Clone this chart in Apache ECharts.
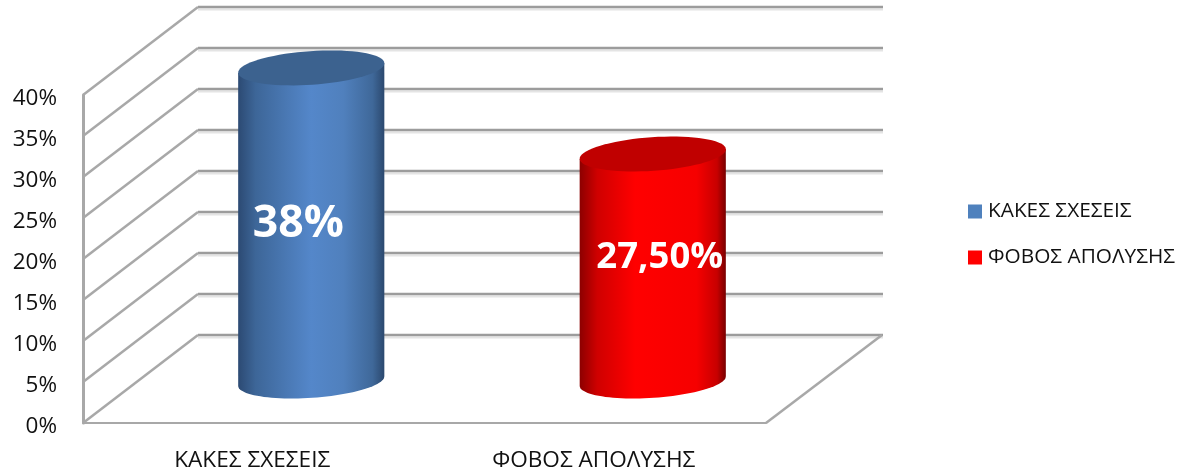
<!DOCTYPE html>
<html>
<head>
<meta charset="utf-8">
<style>html,body{margin:0;padding:0;background:#fff}#c{width:1181px;height:470px}</style>
<script src="https://cdn.jsdelivr.net/npm/echarts@6/dist/echarts.min.js"></script>
</head>
<body>
<div id="c"></div>
<script>
const categories = ['ΚΑΚΕΣ ΣΧΕΣΕΙΣ', 'ΦΟΒΟΣ ΑΠΟΛΥΣΗΣ'];
const seriesNames = ['ΚΑΚΕΣ ΣΧΕΣΕΙΣ', 'ΦΟΒΟΣ ΑΠΟΛΥΣΗΣ'];
const kakesValues = [38];
const fovosValues = [27.5];
const valueLabels = ['38%', '27,50%'];
const yTicks = [0, 5, 10, 15, 20, 25, 30, 35, 40];

const FONT = '"Open Sans", "Noto Sans", sans-serif';
const DX = 115, DY = -88;
const chart = echarts.init(document.getElementById('c'), null, { renderer: 'canvas' });

function wallRenderer(params, api) {
  const v = api.value(0);
  const p = api.coord([0, v]);
  const bandW = api.size([1, 0])[0];
  const left = p[0] - bandW / 2;
  const right = left + 2 * bandW;
  const y = p[1];
  const children = [
    { type: 'line', shape: { x1: left + DX, y1: y + DY + 2.5, x2: right + DX + 2, y2: y + DY + 2.5 }, style: { stroke: '#e4e4e4', lineWidth: 2 } },
    { type: 'line', shape: { x1: left + DX, y1: y + DY, x2: right + DX + 2, y2: y + DY }, style: { stroke: '#9c9c9c', lineWidth: 2.5 } },
    { type: 'line', shape: { x1: left, y1: y, x2: left + DX, y2: y + DY }, style: { stroke: '#a8a8a8', lineWidth: 2.5 } }
  ];
  if (v === 0) {
    children.push({ type: 'line', shape: { x1: right, y1: y, x2: right + DX + 1, y2: y + DY }, style: { stroke: '#a8a8a8', lineWidth: 2.5 } });
  }
  return { type: 'group', children };
}

function ellipsePts(cx, cy, a, b, phi, t0, t1, n) {
  const pts = [];
  for (let i = 0; i <= n; i++) {
    const t = t0 + (t1 - t0) * i / n;
    const ex = a * Math.cos(t), ey = b * Math.sin(t);
    pts.push([cx + ex * Math.cos(phi) - ey * Math.sin(phi), cy + ex * Math.sin(phi) + ey * Math.cos(phi)]);
  }
  return pts;
}

function cylinderRenderer(stops, topColor, label, labelFont, lblDx, lblDy) {
  return function (params, api) {
    const cat = api.value(0), val = api.value(1);
    const top = api.coord([cat, val]);
    const base = api.coord([cat, 0]);
    const bandW = api.size([1, 0])[0];
    const a = bandW * 0.2145, b = 16.8, phi = -3.9 * Math.PI / 180;
    const cx = top[0] + DX / 2;
    const cyTop = top[1] + DY / 2 + 0.5;
    const cyBase = base[1] + DY / 2 + 2;
    const lower = ellipsePts(cx, cyBase, a, b, phi, 0, Math.PI, 48);
    const ends = ellipsePts(cx, cyTop, a, b, phi, 0, Math.PI, 1);
    const body = [ends[0]].concat(lower, [ends[1]]);
    return {
      type: 'group',
      children: [
        { type: 'polygon', shape: { points: body },
          style: { fill: new echarts.graphic.LinearGradient(0, 0, 1, 0, stops) } },
        { type: 'polygon', shape: { points: ellipsePts(cx, cyTop, a, b, phi, 0, Math.PI * 2, 72) },
          style: { fill: topColor } },
        { type: 'text', style: {
            x: cx + lblDx, y: (cyTop + cyBase) / 2 + lblDy, text: label, fill: '#ffffff',
            font: labelFont, textAlign: 'center', textVerticalAlign: 'middle' } }
      ]
    };
  };
}

const blueStops = [
  { offset: 0, color: '#2c4a73' }, { offset: 0.12, color: '#3d6698' },
  { offset: 0.5, color: '#5487ca' }, { offset: 0.72, color: '#5080bd' },
  { offset: 0.92, color: '#3f6899' }, { offset: 1, color: '#2b486e' }
];
const redStops = [
  { offset: 0, color: '#8c0000' }, { offset: 0.12, color: '#cf0000' },
  { offset: 0.38, color: '#ff0000' }, { offset: 0.8, color: '#f60000' },
  { offset: 0.94, color: '#c80000' }, { offset: 1, color: '#780000' }
];

chart.setOption({
  animation: false,
  backgroundColor: '#ffffff',
  textStyle: { fontFamily: FONT },
  legend: {
    data: seriesNames,
    orient: 'vertical',
    left: 963,
    top: 196,
    itemWidth: 14,
    itemHeight: 14,
    itemGap: 25,
    icon: 'rect',
    selectedMode: false,
    textStyle: { fontFamily: FONT, fontSize: 20.8, color: '#111', padding: [0, 0, 0, 1] }
  },
  grid: { left: 83, right: 415, top: 95, bottom: 47, containLabel: false, outerBoundsMode: 'none' },
  xAxis: {
    type: 'category',
    data: categories,
    axisLine: { show: true, lineStyle: { color: '#a8a8a8', width: 2 } },
    axisTick: { show: false },
    axisLabel: { fontFamily: FONT, fontSize: 22.6, color: '#111', margin: 26, padding: [0, 3, 0, 0] },
    splitLine: { show: false }
  },
  yAxis: {
    type: 'value',
    min: 0,
    max: 40,
    interval: 5,
    axisLine: { show: true, lineStyle: { color: '#a8a8a8', width: 3 } },
    axisTick: { show: false },
    axisLabel: { fontFamily: FONT, fontSize: 22.5, color: '#111', margin: 26, verticalAlign: 'top', lineHeight: 8, formatter: '{value}%' },
    splitLine: { show: false }
  },
  series: [
    { type: 'custom', name: 'walls', z: 1, silent: true, coordinateSystem: 'cartesian2d',
      data: yTicks.map(v => [v]), encode: { y: 0 }, renderItem: wallRenderer },
    { type: 'custom', name: seriesNames[0], z: 3, coordinateSystem: 'cartesian2d',
      itemStyle: { color: '#4f81bd' },
      data: kakesValues.map(v => [0, v]), encode: { x: 0, y: 1 },
      renderItem: cylinderRenderer(blueStops, '#3c628f', valueLabels[0], 'bold 44.5px ' + FONT, -13, 0) },
    { type: 'custom', name: seriesNames[1], z: 3, coordinateSystem: 'cartesian2d',
      itemStyle: { color: '#ff0000' },
      data: fovosValues.map(v => [1, v]), encode: { x: 0, y: 1 },
      renderItem: cylinderRenderer(redStops, '#c00000', valueLabels[1], 'bold 36.5px ' + FONT, 7, -10) }
  ]
});
</script>
</body>
</html>
